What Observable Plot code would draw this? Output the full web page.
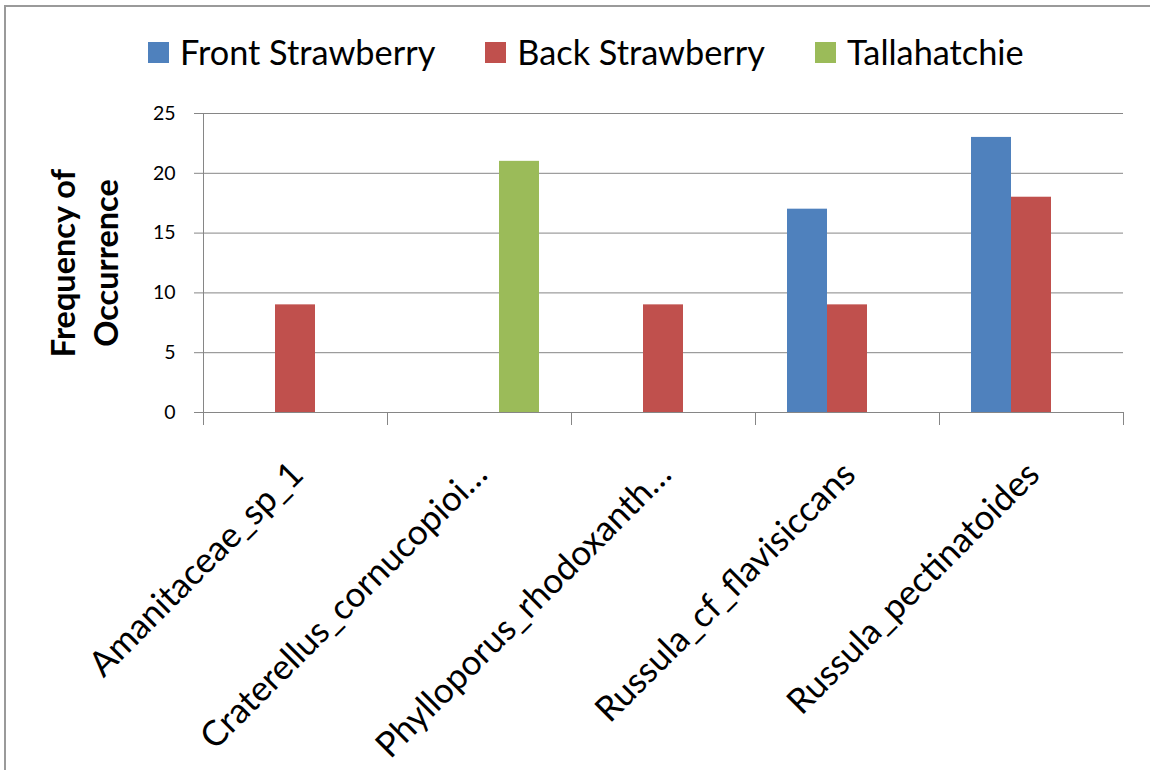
<!DOCTYPE html>
<html>
<head>
<meta charset="utf-8">
<script src="https://cdn.jsdelivr.net/npm/d3@7"></script>
<script src="https://cdn.jsdelivr.net/npm/@observablehq/plot@0.6"></script>
<style>
  html, body { margin: 0; padding: 0; background: #fff; }
  body { width: 1150px; height: 770px; overflow: hidden; position: relative; font-family: Lato, "Noto Sans", sans-serif; }
  #border { position: absolute; left: 4px; top: 5px; width: 1200px; height: 800px; border: 2px solid #9a9a9a; box-sizing: border-box; }
  #legend { position: absolute; left: 148px; top: 32px; display: flex; align-items: center; gap: 50px; }
  .item { display: flex; align-items: center; font-size: 34.3px; line-height: 40px; color: #000; }
  .swatch { width: 21px; height: 21px; margin-right: 11px; }
  #chart { position: absolute; left: 0; top: 85px; }
</style>
</head>
<body>
<div id="border"></div>
<div id="legend"></div>
<div id="chart"></div>
<script>
// Species (as labelled on the category axis)
const species = [
  "Amanitaceae_sp_1",
  "Craterellus_cornucopioi…",
  "Phylloporus_rhodoxanth…",
  "Russula_cf_flavisiccans",
  "Russula_pectinatoides"
];

// Sampling sites
const sites = ["Front Strawberry", "Back Strawberry", "Tallahatchie"];
const siteColors = ["#4F81BD", "#C0504D", "#9BBB59"];

// Frequency of occurrence per site, one value per species
const frontStrawberry = [0, 0, 0, 17, 23];
const backStrawberry  = [9, 0, 9, 9, 18];
const tallahatchie    = [0, 21, 0, 0, 0];

const yTicks = [0, 5, 10, 15, 20, 25];
const yTitle = "Frequency of\nOccurrence";

// Long table for grouped bars
const seriesValues = [frontStrawberry, backStrawberry, tallahatchie];
const rows = [];
species.forEach((sp, i) => {
  sites.forEach((site, j) => {
    rows.push({species: sp, site, count: seriesValues[j][i]});
  });
});

// Legend
const legend = document.getElementById("legend");
sites.forEach((site, j) => {
  const item = document.createElement("div");
  item.className = "item";
  const sw = document.createElement("span");
  sw.className = "swatch";
  sw.style.background = siteColors[j];
  const label = document.createElement("span");
  label.textContent = site;
  item.append(sw, label);
  legend.append(item);
});

const W = 1150, H = 685;
const mTop = 28, mBottom = 358, mLeft = 202, mRight = 25.5;
const innerH = H - mTop - mBottom;
const axisGray = "#868686";

const chart = Plot.plot({
  width: W,
  height: H,
  marginTop: mTop,
  marginBottom: mBottom,
  marginLeft: mLeft,
  marginRight: mRight,
  style: {fontFamily: "Lato, 'Noto Sans', sans-serif", color: "#000", background: "transparent"},
  fx: {domain: species, paddingInner: 0, paddingOuter: 0, label: null},
  x: {domain: sites, paddingInner: 0, paddingOuter: 0.75, axis: null},
  y: {domain: [0, 25], label: null, axis: null},
  color: {domain: sites, range: siteColors},
  marks: [
    Plot.gridY(yTicks.filter(d => d > 0), {stroke: axisGray, strokeOpacity: 1, strokeWidth: 1}),
    Plot.barY(rows, {fx: "species", x: "site", y: "count", fill: "site"}),
    Plot.ruleY([0], {stroke: axisGray, strokeWidth: 1}),
    // vertical value axis line
    Plot.frame({anchor: "left", facetAnchor: "left", stroke: axisGray, strokeWidth: 1}),
    // category boundary tick marks below the axis
    Plot.frame({anchor: "left", stroke: axisGray, insetTop: innerH, insetBottom: -12}),
    Plot.frame({anchor: "right", stroke: axisGray, insetTop: innerH, insetBottom: -12}),
    Plot.axisY(yTicks, {
      anchor: "left", tickSize: 9, tickPadding: 19, fontSize: 19.5,
      stroke: axisGray, fill: "#000", label: null
    }),
    Plot.axisFx({
      anchor: "bottom", tickSize: 0, tickPadding: 56, tickRotate: -45,
      fontSize: 35, dx: 2, fill: "#000", label: null
    }),
    Plot.text([{fx: species[0], t: yTitle}], {
      fx: "fx", text: "t", frameAnchor: "left", textAnchor: "middle", rotate: -90, dx: -121,
      fontSize: 32.5, fontWeight: "bold", lineHeight: 1.35, fill: "#000"
    })
  ]
});

document.getElementById("chart").append(chart);
</script>
</body>
</html>
